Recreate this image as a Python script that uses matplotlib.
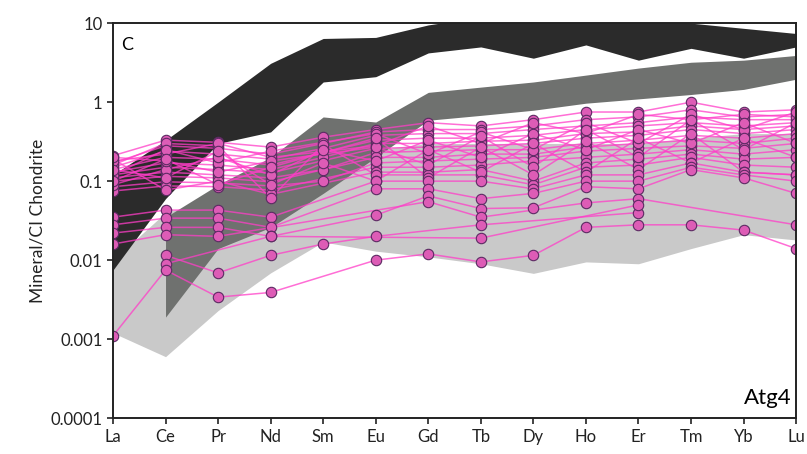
import numpy as np
import matplotlib
matplotlib.use('Agg')
import matplotlib.pyplot as plt

plt.rcParams['font.family'] = ['Lato', 'DejaVu Sans']

nan = np.nan
elements = ['La', 'Ce', 'Pr', 'Nd', 'Sm', 'Eu', 'Gd', 'Tb', 'Dy', 'Ho', 'Er', 'Tm', 'Yb', 'Lu']

# reference fields (upper / lower envelopes)
black_upper = [0.12, 0.33, 1.0, 3.1, 6.4, 6.6, 9.5, 12, 12, 12, 12, 10, 8.6, 7.4]
black_lower = [0.0075, 0.06, 0.3, 0.42, 1.8, 2.1, 4.2, 5.0, 3.6, 5.3, 3.4, 4.8, 3.6, 5.0]
mid_upper = [nan, 0.035, 0.09, 0.2, 0.65, 0.56, 1.33, 1.55, 1.8, 2.2, 2.7, 3.2, 3.4, 3.9]
mid_lower = [nan, 0.0019, 0.014, 0.026, 0.07, 0.2, 0.59, 0.68, 0.79, 0.97, 1.1, 1.25, 1.45, 1.95]
light_upper = [0.01, 0.04, 0.06, 0.1, 0.2, 0.25, 0.3, 0.3, 0.3, 0.3, 0.3, 0.35, 0.4, 0.4]
light_lower = [0.0012, 0.0006, 0.0023, 0.0069, 0.017, 0.013, 0.011, 0.009, 0.0068, 0.0095, 0.009, 0.014, 0.021, 0.018]

# Atg4 analyses
samples = [
    [0.21, 0.33, 0.31, 0.27, 0.36, 0.45, 0.55, 0.5, 0.6, 0.75, 0.75, 1.0, 0.75, 0.8],
    [0.17, 0.28, 0.26, 0.22, 0.3, 0.42, 0.45, 0.45, 0.5, 0.6, 0.65, 0.8, 0.65, 0.7],
    [0.15, 0.24, 0.22, 0.19, 0.26, 0.38, 0.4, 0.4, 0.45, 0.5, 0.55, 0.65, 0.6, 0.6],
    [0.14, 0.2, 0.19, 0.16, nan, 0.33, 0.35, 0.35, 0.38, 0.45, 0.5, 0.55, 0.5, 0.55],
    [0.13, 0.17, 0.16, 0.14, 0.2, 0.3, 0.3, 0.32, 0.33, 0.4, 0.42, 0.5, 0.45, 0.5],
    [0.12, 0.15, 0.14, 0.127, nan, 0.26, 0.27, 0.28, 0.3, 0.35, 0.38, 0.45, 0.4, 0.45],
    [0.11, 0.13, 0.12, 0.11, 0.14, 0.23, 0.24, 0.25, 0.25, 0.3, 0.33, 0.38, 0.35, 0.4],
    [0.1, 0.115, 0.11, 0.098, nan, 0.2, 0.2, 0.22, 0.22, 0.27, 0.3, 0.33, 0.3, 0.35],
    [0.085, 0.098, 0.095, 0.087, 0.1, 0.17, 0.18, 0.19, 0.2, 0.24, 0.26, 0.28, 0.26, 0.3],
    [0.075, 0.087, 0.085, 0.077, nan, 0.15, 0.15, 0.16, 0.18, 0.2, 0.22, 0.25, 0.22, 0.25],
    [0.19, 0.077, 0.1, 0.068, nan, 0.13, 0.13, 0.14, 0.1, 0.17, 0.19, 0.22, 0.19, 0.2],
    [0.16, 0.3, 0.28, 0.061, 0.29, 0.12, 0.12, 0.12, 0.09, 0.15, 0.16, 0.2, 0.16, 0.15],
    [0.18, 0.22, 0.3, 0.2, nan, 0.28, 0.5, 0.3, 0.55, 0.4, 0.7, 0.6, 0.7, 0.65],
    [0.12, 0.25, 0.17, 0.24, nan, 0.4, 0.22, 0.42, 0.25, 0.55, 0.3, 0.7, 0.45, 0.75],
    [0.09, 0.14, 0.2, 0.12, 0.25, 0.18, 0.33, 0.2, 0.4, 0.25, 0.45, 0.3, 0.55, 0.3],
    [0.2, 0.18, 0.13, 0.18, nan, 0.27, 0.16, 0.37, 0.15, 0.45, 0.2, 0.6, 0.25, 0.55],
    [0.14, 0.11, 0.24, 0.09, 0.17, 0.1, 0.25, 0.13, 0.3, 0.13, 0.35, 0.17, 0.35, 0.2],
    [0.1, 0.19, 0.09, 0.15, nan, 0.35, 0.11, 0.27, 0.12, 0.32, 0.14, 0.4, 0.13, 0.12],
    [0.035, 0.043, 0.043, 0.035, nan, 0.1, 0.1, 0.1, 0.08, 0.12, 0.12, 0.17, 0.13, 0.12],
    [0.028, 0.034, 0.034, 0.026, nan, 0.08, 0.08, 0.06, 0.07, 0.1, 0.1, 0.15, 0.12, 0.1],
    [0.022, 0.026, 0.026, 0.02, nan, 0.037, 0.065, 0.045, 0.046, 0.085, 0.08, 0.14, 0.11, 0.07],
    [0.016, 0.021, 0.02, nan, nan, nan, 0.055, 0.035, nan, 0.053, 0.06, nan, nan, 0.028],
    [nan, 0.0115, 0.0069, 0.0115, 0.016, 0.02, nan, 0.028, nan, nan, 0.04, nan, nan, nan],
    [nan, 0.009, nan, 0.02, nan, nan, nan, 0.019, nan, nan, 0.05, nan, nan, nan],
    [0.0011, 0.0075, 0.0034, 0.0039, nan, 0.01, 0.012, 0.0095, 0.0115, 0.026, 0.028, 0.028, 0.024, 0.014],
]

x = np.arange(len(elements))

fig = plt.figure(figsize=(8.07, 4.54), dpi=100)
ax = fig.add_axes([0.14, 0.079, 0.8465, 0.87])

ax.fill_between(x, light_lower, light_upper, color='#c9c9c9', lw=0, zorder=1)
ax.fill_between(x, mid_lower, mid_upper, color='#6f716f', lw=0, zorder=2)
ax.fill_between(x, black_lower, black_upper, color='#2b2b2b', lw=0, zorder=2.5)

for s in samples:
    v = np.array(s)
    m = ~np.isnan(v)
    ax.plot(x[m], v[m], color='#ff3dc8', lw=1.1, alpha=0.75, zorder=3)
for s in samples:
    v = np.array(s)
    m = ~np.isnan(v)
    ax.plot(x[m], v[m], ls='none', marker='o', ms=7.5, mfc='#dd5cb6',
            mec='#5c2a63', mew=0.8, zorder=4)

ax.set_yscale('log')
ax.set_ylim(0.0001, 10)
ax.set_xlim(0, len(elements) - 1)
ax.set_yticks([0.0001, 0.001, 0.01, 0.1, 1, 10])
ax.set_yticklabels(['0.0001', '0.001', '0.01', '0.1', '1', '10'])
ax.minorticks_off()
ax.set_xticks(x)
ax.set_xticklabels(elements)
ax.tick_params(axis='both', direction='out', length=4, width=1.2, labelsize=12, colors='#222222')
for sp in ax.spines.values():
    sp.set_linewidth(1.4)
    sp.set_color('#222222')
    sp.set_zorder(6)

ax.set_ylabel('Mineral/CI Chondrite', fontsize=12.5, color='#222222', labelpad=4)
ax.text(0.012, 0.965, 'C', transform=ax.transAxes, fontsize=13, va='top', ha='left', zorder=7)
ax.text(0.993, 0.025, 'Atg4', transform=ax.transAxes, fontsize=16, va='bottom', ha='right', zorder=7)

fig.savefig('out.png', dpi=100)
